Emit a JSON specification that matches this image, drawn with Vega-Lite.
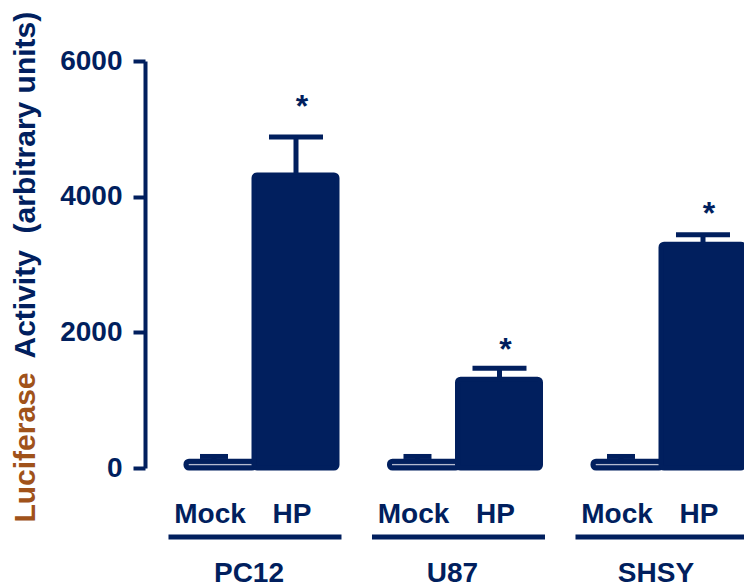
{
  "$schema": "https://vega.github.io/schema/vega-lite/v6.json",
  "width": 599,
  "height": 407,
  "autosize": {"type": "none"},
  "padding": {"left": 145, "top": 61, "right": 0, "bottom": 118},
  "background": "white",
  "config": {
    "view": {"stroke": null},
    "font": "Liberation Sans",
    "text": {"font": "Liberation Sans"}
  },
  "datasets": {
    "cells": [
      {"line": "PC12", "treatment": "Mock", "value": 100, "upper": 170},
      {"line": "PC12", "treatment": "HP", "value": 4320, "upper": 4880},
      {"line": "U87", "treatment": "Mock", "value": 100, "upper": 170},
      {"line": "U87", "treatment": "HP", "value": 1310, "upper": 1470},
      {"line": "SHSY", "treatment": "Mock", "value": 100, "upper": 170},
      {"line": "SHSY", "treatment": "HP", "value": 3300, "upper": 3440}
    ],
    "stars": [
      {"line": "PC12", "treatment": "HP", "label": "*", "star_y": 5170},
      {"line": "U87", "treatment": "HP", "label": "*", "star_y": 1590},
      {"line": "SHSY", "treatment": "HP", "label": "*", "star_y": 3600}
    ]
  },
  "data": {"name": "cells"},
  "resolve": {"axis": {"y": "independent"}},
  "encoding": {
    "x": {
      "field": "line",
      "type": "nominal",
      "scale": {"domain": ["PC12", "U87", "SHSY"], "paddingInner": 0.194, "paddingOuter": 0.06875, "align": 1},
      "axis": {
        "title": null,
        "domain": false,
        "ticks": false,
        "tickSize": 0,
        "grid": false,
        "labelAngle": 0,
        "labelFont": "Liberation Sans",
        "labelFontSize": 28,
        "labelFontWeight": "bold",
        "labelColor": "#011F5E",
        "labelBaseline": "alphabetic",
        "labelPadding": 113,
        "labelOffset": -6
      }
    }
  },
  "layer": [
    {
      "transform": [{"filter": "datum.treatment === 'Mock'"}],
      "mark": {"type": "bar", "width": {"band": 0.8415}, "fill": "#B4BAD0", "stroke": "#011F5E", "strokeWidth": 5, "cornerRadius": 3},
      "encoding": {
        "xOffset": {"field": "treatment", "type": "nominal", "scale": {"domain": ["Mock", "HP"], "paddingInner": 0, "paddingOuter": 0}},
        "y": {
          "field": "value",
          "type": "quantitative",
          "scale": {"domain": [0, 6000], "nice": false},
          "axis": {
            "orient": "left",
            "values": [0, 2000, 4000, 6000],
            "format": "d",
            "grid": false,
            "domainColor": "#011F5E",
            "domainWidth": 4,
            "tickColor": "#011F5E",
            "tickWidth": 4,
            "tickSize": 12,
            "labelFont": "Liberation Sans",
            "labelFontSize": 28,
            "labelFontWeight": "bold",
            "labelColor": "#011F5E",
            "labelPadding": 11,
            "title": "Activity\u00a0\u00a0(arbitrary units)",
            "titleFont": "Liberation Sans",
            "titleFontSize": 30,
            "titleFontWeight": "bold",
            "titleColor": "#011F5E",
            "titleAngle": 270,
            "titleAlign": "left",
            "titleBaseline": "alphabetic",
            "titleX": -111,
            "titleY": 297
          }
        }
      }
    },
    {
      "transform": [{"filter": "datum.treatment === 'HP'"}],
      "mark": {"type": "bar", "width": {"band": 1.012}, "fill": "#011F5E", "stroke": "#011F5E", "strokeWidth": 5, "cornerRadius": 3},
      "encoding": {
        "xOffset": {"field": "treatment", "type": "nominal", "scale": {"domain": ["Mock", "HP"], "paddingInner": 0, "paddingOuter": 0}},
        "y": {"field": "value", "type": "quantitative", "scale": {"domain": [0, 6000], "nice": false}, "axis": null}
      }
    },
    {
      "mark": {"type": "rule", "color": "#011F5E", "strokeWidth": 5},
      "encoding": {
        "xOffset": {"field": "treatment", "type": "nominal", "scale": {"domain": ["Mock", "HP"], "paddingInner": 0, "paddingOuter": 0}},
        "y": {"field": "value", "type": "quantitative", "scale": {"domain": [0, 6000], "nice": false}, "axis": null},
        "y2": {"field": "upper"}
      }
    },
    {
      "mark": {"type": "tick", "color": "#011F5E", "thickness": 5, "opacity": 1, "orient": "horizontal"},
      "encoding": {
        "xOffset": {"field": "treatment", "type": "nominal", "scale": {"domain": ["Mock", "HP"], "paddingInner": 0, "paddingOuter": 0}},
        "y": {"field": "upper", "type": "quantitative", "scale": {"domain": [0, 6000], "nice": false}, "axis": null},
        "size": {"field": "treatment", "type": "nominal", "scale": {"domain": ["Mock", "HP"], "range": [28, 54]}, "legend": null}
      }
    },
    {
      "mark": {"type": "text", "font": "Liberation Sans", "fontSize": 28, "fontWeight": "bold", "color": "#011F5E", "baseline": "alphabetic", "dy": 55, "dx": -4},
      "encoding": {
        "xOffset": {"field": "treatment", "type": "nominal", "scale": {"domain": ["Mock", "HP"], "paddingInner": 0, "paddingOuter": 0}},
        "y": {"datum": 0, "type": "quantitative", "scale": {"domain": [0, 6000], "nice": false}, "axis": null},
        "text": {"field": "treatment"}
      }
    },
    {
      "transform": [{"filter": "datum.treatment === 'Mock'"}],
      "mark": {"type": "tick", "color": "#011F5E", "thickness": 5, "size": 173, "opacity": 1, "orient": "horizontal", "yOffset": 69},
      "encoding": {
        "y": {"datum": 0, "type": "quantitative", "scale": {"domain": [0, 6000], "nice": false}, "axis": null}
      }
    },
    {
      "data": {"name": "stars"},
      "mark": {"type": "text", "font": "Liberation Sans", "fontSize": 32, "fontWeight": "bold", "color": "#011F5E", "baseline": "alphabetic", "dx": 6},
      "encoding": {
        "xOffset": {"field": "treatment", "type": "nominal", "scale": {"domain": ["Mock", "HP"], "paddingInner": 0, "paddingOuter": 0}},
        "y": {
          "field": "star_y",
          "type": "quantitative",
          "scale": {"domain": [0, 6000], "nice": false},
          "axis": {
            "orient": "left",
            "domain": false,
            "ticks": false,
            "labels": false,
            "grid": false,
            "title": "Luciferase",
            "titleFont": "Liberation Sans",
            "titleFontSize": 30,
            "titleFontWeight": "bold",
            "titleColor": "#A0521A",
            "titleAngle": 270,
            "titleAlign": "right",
            "titleBaseline": "alphabetic",
            "titleX": -111,
            "titleY": 311
          }
        },
        "text": {"field": "label"}
      }
    }
  ]
}
